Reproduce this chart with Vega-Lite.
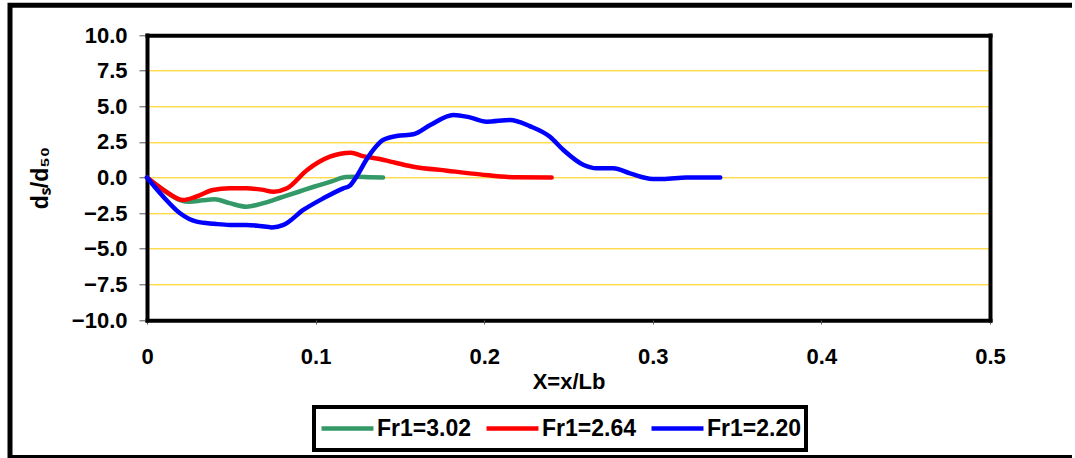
{
  "$schema": "https://vega.github.io/schema/vega-lite/v6.json",
  "width": 1065,
  "height": 452.2,
  "autosize": "none",
  "padding": {"left": 10, "top": 5.3, "right": 0, "bottom": 0.5},
  "background": "white",
  "config": {
    "view": {"stroke": "black", "strokeWidth": 5, "strokeDash": [1062, 458.2, 2000]},
    "axis": {"labelFont": "Liberation Sans", "labelFontWeight": "bold", "labelColor": "black", "titleFont": "Liberation Sans", "titleFontWeight": "bold", "titleColor": "black"},
    "legend": {"labelFont": "Liberation Sans", "labelFontWeight": "bold", "labelColor": "black", "strokeColor": "black", "strokeWidth": 4, "padding": 5}
  },
  "data": {
    "values": [
      {"x": 0, "y": 0, "s": "Fr1=3.02"},
      {"x": 0.01, "y": -0.9, "s": "Fr1=3.02"},
      {"x": 0.02, "y": -1.6, "s": "Fr1=3.02"},
      {"x": 0.025, "y": -1.7, "s": "Fr1=3.02"},
      {"x": 0.033, "y": -1.6, "s": "Fr1=3.02"},
      {"x": 0.04, "y": -1.53, "s": "Fr1=3.02"},
      {"x": 0.049, "y": -1.8, "s": "Fr1=3.02"},
      {"x": 0.059, "y": -2.05, "s": "Fr1=3.02"},
      {"x": 0.069, "y": -1.8, "s": "Fr1=3.02"},
      {"x": 0.079, "y": -1.42, "s": "Fr1=3.02"},
      {"x": 0.09, "y": -1.0, "s": "Fr1=3.02"},
      {"x": 0.099, "y": -0.65, "s": "Fr1=3.02"},
      {"x": 0.11, "y": -0.25, "s": "Fr1=3.02"},
      {"x": 0.118, "y": 0.03, "s": "Fr1=3.02"},
      {"x": 0.125, "y": 0.05, "s": "Fr1=3.02"},
      {"x": 0.132, "y": 0.02, "s": "Fr1=3.02"},
      {"x": 0.14, "y": 0.0, "s": "Fr1=3.02"},
      {"x": 0, "y": 0, "s": "Fr1=2.64"},
      {"x": 0.01, "y": -0.88, "s": "Fr1=2.64"},
      {"x": 0.0215, "y": -1.58, "s": "Fr1=2.64"},
      {"x": 0.029, "y": -1.35, "s": "Fr1=2.64"},
      {"x": 0.039, "y": -0.88, "s": "Fr1=2.64"},
      {"x": 0.049, "y": -0.76, "s": "Fr1=2.64"},
      {"x": 0.059, "y": -0.76, "s": "Fr1=2.64"},
      {"x": 0.068, "y": -0.85, "s": "Fr1=2.64"},
      {"x": 0.075, "y": -1.0, "s": "Fr1=2.64"},
      {"x": 0.083, "y": -0.76, "s": "Fr1=2.64"},
      {"x": 0.095, "y": 0.53, "s": "Fr1=2.64"},
      {"x": 0.1085, "y": 1.46, "s": "Fr1=2.64"},
      {"x": 0.121, "y": 1.74, "s": "Fr1=2.64"},
      {"x": 0.128, "y": 1.5, "s": "Fr1=2.64"},
      {"x": 0.138, "y": 1.3, "s": "Fr1=2.64"},
      {"x": 0.145, "y": 1.1, "s": "Fr1=2.64"},
      {"x": 0.158, "y": 0.76, "s": "Fr1=2.64"},
      {"x": 0.178, "y": 0.48, "s": "Fr1=2.64"},
      {"x": 0.1975, "y": 0.22, "s": "Fr1=2.64"},
      {"x": 0.219, "y": 0.01, "s": "Fr1=2.64"},
      {"x": 0.24, "y": 0.0, "s": "Fr1=2.64"},
      {"x": 0, "y": 0, "s": "Fr1=2.20"},
      {"x": 0.0097, "y": -1.35, "s": "Fr1=2.20"},
      {"x": 0.0196, "y": -2.51, "s": "Fr1=2.20"},
      {"x": 0.0294, "y": -3.1, "s": "Fr1=2.20"},
      {"x": 0.04, "y": -3.25, "s": "Fr1=2.20"},
      {"x": 0.049, "y": -3.33, "s": "Fr1=2.20"},
      {"x": 0.059, "y": -3.33, "s": "Fr1=2.20"},
      {"x": 0.067, "y": -3.4, "s": "Fr1=2.20"},
      {"x": 0.074, "y": -3.5, "s": "Fr1=2.20"},
      {"x": 0.081, "y": -3.33, "s": "Fr1=2.20"},
      {"x": 0.0927, "y": -2.28, "s": "Fr1=2.20"},
      {"x": 0.1046, "y": -1.46, "s": "Fr1=2.20"},
      {"x": 0.1164, "y": -0.76, "s": "Fr1=2.20"},
      {"x": 0.12, "y": -0.6, "s": "Fr1=2.20"},
      {"x": 0.125, "y": 0.2, "s": "Fr1=2.20"},
      {"x": 0.13, "y": 1.23, "s": "Fr1=2.20"},
      {"x": 0.136, "y": 2.2, "s": "Fr1=2.20"},
      {"x": 0.14, "y": 2.63, "s": "Fr1=2.20"},
      {"x": 0.148, "y": 2.91, "s": "Fr1=2.20"},
      {"x": 0.158, "y": 3.03, "s": "Fr1=2.20"},
      {"x": 0.168, "y": 3.68, "s": "Fr1=2.20"},
      {"x": 0.1817, "y": 4.39, "s": "Fr1=2.20"},
      {"x": 0.1915, "y": 4.22, "s": "Fr1=2.20"},
      {"x": 0.2014, "y": 3.92, "s": "Fr1=2.20"},
      {"x": 0.2153, "y": 4.04, "s": "Fr1=2.20"},
      {"x": 0.227, "y": 3.61, "s": "Fr1=2.20"},
      {"x": 0.239, "y": 2.86, "s": "Fr1=2.20"},
      {"x": 0.247, "y": 1.93, "s": "Fr1=2.20"},
      {"x": 0.259, "y": 0.88, "s": "Fr1=2.20"},
      {"x": 0.2667, "y": 0.65, "s": "Fr1=2.20"},
      {"x": 0.2766, "y": 0.65, "s": "Fr1=2.20"},
      {"x": 0.2865, "y": 0.29, "s": "Fr1=2.20"},
      {"x": 0.3, "y": -0.1, "s": "Fr1=2.20"},
      {"x": 0.306, "y": -0.1, "s": "Fr1=2.20"},
      {"x": 0.32, "y": 0.0, "s": "Fr1=2.20"},
      {"x": 0.34, "y": 0.0, "s": "Fr1=2.20"}
    ]
  },
  "resolve": {"axis": {"y": "independent"}},
  "layer": [
    {
      "mark": {"type": "line", "strokeOpacity": 0},
      "encoding": {
        "x": {"field": "x", "type": "quantitative", "scale": {"domain": [0, 0.5], "nice": false, "range": [137, 980]}},
        "y": {
          "field": "y", "type": "quantitative",
          "scale": {"domain": [-10, 10], "nice": false, "range": [314.7, 29.7]},
          "axis": {"orient": "right", "offset": -85, "labels": false, "ticks": false, "grid": false, "title": null,
                   "domain": true, "domainColor": "black", "domainWidth": 4, "domainCap": "square"}
        },
        "detail": {"field": "s"}
      }
    },
    {
      "mark": {"type": "line", "interpolate": "monotone", "strokeWidth": 4.5, "strokeCap": "round", "strokeJoin": "round"},
      "encoding": {
        "x": {
          "field": "x", "type": "quantitative",
          "scale": {"domain": [0, 0.5], "nice": false, "range": [137, 980]},
          "axis": {
            "values": [0, 0.1, 0.2, 0.3, 0.4, 0.5],
            "labelExpr": "datum.value == 0 ? '0' : format(datum.value, '.1f')",
            "labelFontSize": 22, "labelPadding": 22, "labelFlush": false, "tickSize": 4, "tickColor": "#555",
            "domain": false, "grid": false, "offset": -137.5,
            "title": "X=x/Lb", "titleFontSize": 22, "titleX": 558.5, "titleY": 61, "titleBaseline": "middle"
          }
        },
        "y": {
          "field": "y", "type": "quantitative",
          "scale": {"domain": [-10, 10], "nice": false, "range": [314.7, 29.7]},
          "axis": {
            "orient": "left",
            "values": [-10, -7.5, -5, -2.5, 0, 2.5, 5, 7.5, 10],
            "format": ".1f",
            "labelFontSize": 22, "labelPadding": 12, "tickSize": 8, "tickColor": "#555",
            "domain": true, "domainColor": "black", "domainWidth": 4, "domainCap": "square",
            "grid": true, "offset": -137,
            "gridColor": {"condition": {"test": "abs(datum.value) == 10", "value": "black"}, "value": "#FFCC00"},
            "gridWidth": {"condition": {"test": "abs(datum.value) == 10", "value": 4}, "value": 1},
            "gridCap": "square",
            "title": "dₛ/d₅₀", "titleFontSize": 23, "titleX": -107, "titleY": 172.2, "titleAngle": 270, "titleAlign": "center", "titleBaseline": "middle"
          }
        },
        "color": {
          "field": "s", "type": "nominal",
          "scale": {"domain": ["Fr1=3.02", "Fr1=2.64", "Fr1=2.20"], "range": ["#339966", "#FF0000", "#0000FF"]},
          "legend": {
            "title": null, "orient": "none", "direction": "horizontal",
            "legendX": 304, "legendY": 401.7,
            "symbolType": "stroke", "symbolSize": 2700, "symbolStrokeWidth": 4.5,
            "labelFontSize": 23, "labelOffset": 1, "columnPadding": 13, "clipHeight": 33
          }
        }
      }
    }
  ]
}
